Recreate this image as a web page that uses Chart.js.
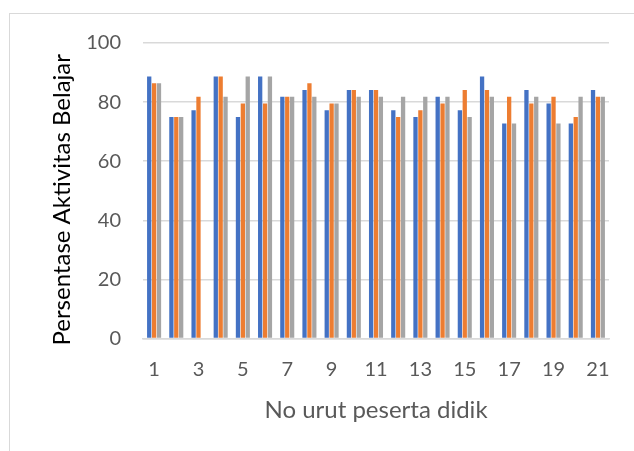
<!DOCTYPE html>
<html>
<head>
<meta charset="utf-8">
<script src="https://cdn.jsdelivr.net/npm/chart.js@4/dist/chart.umd.min.js"></script>
<style>
  html, body { margin: 0; padding: 0; background: #fff; }
  #wrap { position: relative; width: 634px; height: 451px; overflow: hidden; }
  #frame { position: absolute; left: 9px; top: 13px; width: 700px; height: 500px;
           border-top: 1.5px solid #d9d9d9; border-left: 1.5px solid #d9d9d9; box-sizing: border-box; }
  canvas { position: absolute; left: 0; top: 0; }
</style>
</head>
<body>
<div id="wrap">
  <div id="frame"></div>
  <canvas id="c" width="634" height="451"></canvas>
</div>
<script>
// Student numbers 1..21
const categories = ['1','2','3','4','5','6','7','8','9','10','11','12','13','14','15','16','17','18','19','20','21'];

// Activity percentages for the three series
const seriesBlue   = [88.64, 75.00, 77.27, 88.64, 75.00, 88.64, 81.82, 84.09, 77.27, 84.09, 84.09, 77.27, 75.00, 81.82, 77.27, 88.64, 72.73, 84.09, 79.55, 72.73, 84.09];
const seriesOrange = [86.36, 75.00, 81.82, 88.64, 79.55, 79.55, 81.82, 86.36, 79.55, 84.09, 84.09, 75.00, 77.27, 79.55, 84.09, 84.09, 81.82, 79.55, 81.82, 75.00, 81.82];
const seriesGray   = [86.36, 75.00, 0,     81.82, 88.64, 88.64, 81.82, 81.82, 79.55, 81.82, 81.82, 81.82, 81.82, 81.82, 75.00, 81.82, 72.73, 81.82, 72.73, 81.82, 81.82];

// Y axis ticks
const yTicks = [0, 20, 40, 60, 80, 100];

const yTitle = 'Persentase Aktivitas Belajar';
const xTitle = 'No urut peserta didik';

const FONT = 'Lato, "Open Sans", sans-serif';

// Draws the rotated y-axis title, centred a little below the plot's middle
const yTitlePlugin = {
  id: 'yTitle',
  afterDraw(chart) {
    const ctx = chart.ctx;
    const area = chart.chartArea;
    ctx.save();
    ctx.font = '24px ' + FONT;
    ctx.fillStyle = '#000';
    ctx.textAlign = 'center';
    ctx.textBaseline = 'middle';
    ctx.translate(62, (area.top + area.bottom) / 2 + 9);
    ctx.rotate(-Math.PI / 2);
    ctx.fillText(yTitle, 0, 0);
    ctx.restore();
  }
};

new Chart(document.getElementById('c'), {
  type: 'bar',
  data: {
    labels: categories,
    datasets: [
      { data: seriesBlue,   backgroundColor: '#4472C4' },
      { data: seriesOrange, backgroundColor: '#ED7D31' },
      { data: seriesGray,   backgroundColor: '#A5A5A5' }
    ]
  },
  plugins: [yTitlePlugin],
  options: {
    responsive: false,
    animation: false,
    devicePixelRatio: 1,
    layout: { padding: { left: 50, top: 43, right: 25, bottom: 0 } },
    plugins: { legend: { display: false }, tooltip: { enabled: false } },
    datasets: { bar: { categoryPercentage: 0.66, barPercentage: 0.88 } },
    scales: {
      x: {
        grid: { display: false, drawTicks: false },
        border: { display: true, color: '#d9d9d9', width: 1.5 },
        ticks: {
          autoSkip: false,
          maxRotation: 0,
          padding: 19,
          color: '#595959',
          font: { family: FONT, size: 20 },
          callback: (v, i) => (i % 2 === 0 ? categories[i] : '')
        },
        title: {
          display: true, text: xTitle, color: '#595959',
          font: { family: FONT, size: 24 },
          padding: { top: 0, bottom: 26 }
        },
        afterFit: s => { s.height = 112.5; }
      },
      y: {
        min: 0, max: 100,
        afterBuildTicks: s => { s.ticks = yTicks.map(v => ({ value: v })); },
        grid: { color: '#d9d9d9', lineWidth: 1.5, drawTicks: false },
        border: { display: false },
        ticks: {
          padding: 22,
          color: '#595959',
          font: { family: FONT, size: 20 }
        },
        afterFit: s => { s.width = 93; }
      }
    }
  }
});
</script>
</body>
</html>
